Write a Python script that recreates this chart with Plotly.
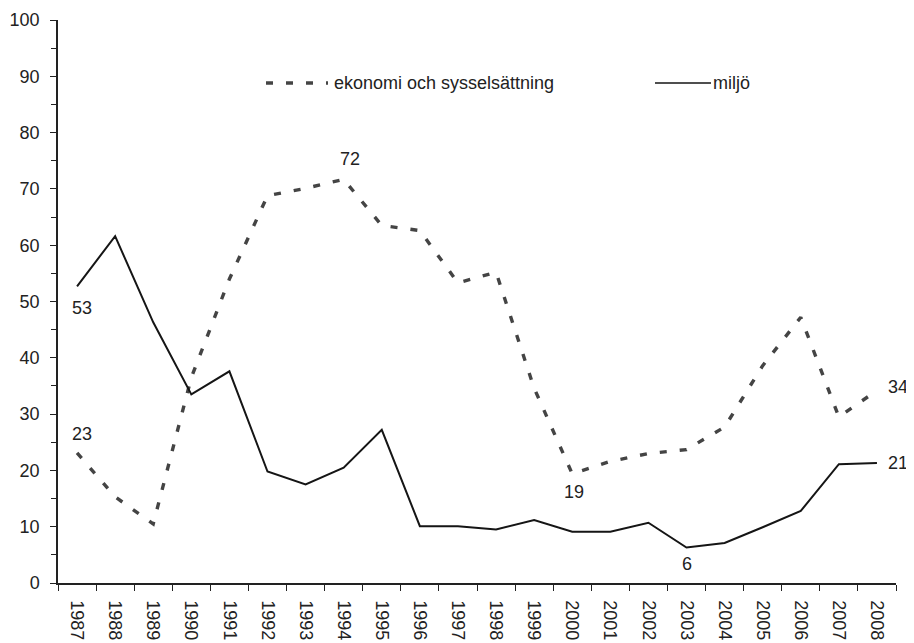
import plotly.graph_objects as go

years = [str(y) for y in range(1987, 2009)]
ekonomi = [23.1, 15.3, 10.5, 36.5, 54.0, 68.8, 70.1, 71.7, 63.5, 62.6, 53.3, 55.2,
           34.6, 19.4, 21.6, 23.0, 23.7, 27.7, 38.6, 47.2, 29.5, 34.2]
miljo = [52.7, 61.6, 46.3, 33.5, 37.6, 19.8, 17.5, 20.5, 27.2, 10.1, 10.1, 9.5,
         11.2, 9.1, 9.1, 10.7, 6.3, 7.1, 9.9, 12.8, 21.1, 21.3]
name_ek = "ekonomi och sysselsättning"
name_mi = "miljö"

# labelled points: (index, xshift, yshift)
ek_labels = [(0, 5, 19), (7, 6, 20), (13, 2, -18), (21, 21, 3)]
mi_labels = [(0, 5, -22), (16, 0, -16), (21, 21, 0)]

FONT = "Liberation Sans, Arial, sans-serif"
TXT = "#222222"
FS = 18

# page has an 8px body margin; figure is sized to fit the window
OFF = 8
fig = go.Figure()
fig.add_trace(go.Scatter(x=years, y=ekonomi, mode="lines", name=name_ek,
                         line=dict(color="#444444", width=3.4, dash="7px,13px"),
                         showlegend=False))
fig.add_trace(go.Scatter(x=years, y=miljo, mode="lines", name=name_mi,
                         line=dict(color="#151515", width=2),
                         showlegend=False))

ann = []
for i, xs, ys in ek_labels:
    ann.append(dict(xref="x", yref="y", x=i, y=ekonomi[i], text=str(round(ekonomi[i])),
                    showarrow=False, xshift=xs, yshift=ys,
                    font=dict(size=FS, color=TXT, family=FONT)))
for i, xs, ys in mi_labels:
    ann.append(dict(xref="x", yref="y", x=i, y=miljo[i], text=str(round(miljo[i])),
                    showarrow=False, xshift=xs, yshift=ys,
                    font=dict(size=FS, color=TXT, family=FONT)))

# manual legend (page pixel positions)
W = 838.0
def px(x):
    return (x - 58) / W
ly = (583 - 83) / 563.0
shapes = [
    dict(type="line", xref="paper", yref="paper", x0=px(266), x1=px(328), y0=ly, y1=ly,
         line=dict(color="#444444", width=3.4, dash="7px,13px")),
    dict(type="line", xref="paper", yref="paper", x0=px(655), x1=px(711), y0=ly, y1=ly,
         line=dict(color="#151515", width=1.5)),
]
ann.append(dict(xref="paper", yref="paper", x=px(332), y=ly, xanchor="left", yanchor="middle",
                text=name_ek, showarrow=False, font=dict(size=FS, color=TXT, family=FONT)))
ann.append(dict(xref="paper", yref="paper", x=px(711), y=ly, xanchor="left", yanchor="middle",
                text=name_mi, showarrow=False, font=dict(size=FS, color=TXT, family=FONT)))

fig.update_layout(
    width=914 - OFF, height=643 - OFF,
    margin=dict(l=58 - OFF, r=914 - 896, t=20 - OFF, b=643 - 583),
    paper_bgcolor="white", plot_bgcolor="white",
    font=dict(family=FONT, size=FS, color=TXT),
    annotations=ann, shapes=shapes,
    xaxis=dict(type="category", range=[-0.5, 21.5], showgrid=False, zeroline=False,
               automargin=False,
               showline=True, linecolor="#222222", linewidth=1.5,
               ticks="outside", tickson="boundaries", ticklen=6, tickcolor="#222222",
               tickwidth=1.2, tickangle=90, ticklabelstandoff=12,
               tickfont=dict(size=FS, color=TXT)),
    yaxis=dict(range=[0, 100], dtick=10, showgrid=False, zeroline=False,
               automargin=False,
               showline=True, linecolor="#222222", linewidth=1.5,
               ticks="outside", ticklen=6, tickcolor="#222222", tickwidth=1.2,
               ticklabelstandoff=7,
               tickfont=dict(size=FS, color=TXT),
               minor=dict(dtick=5, ticks="outside", ticklen=5, tickcolor="#222222",
                          tickwidth=1.2, showgrid=False)),
)

fig.write_html("out.html")
